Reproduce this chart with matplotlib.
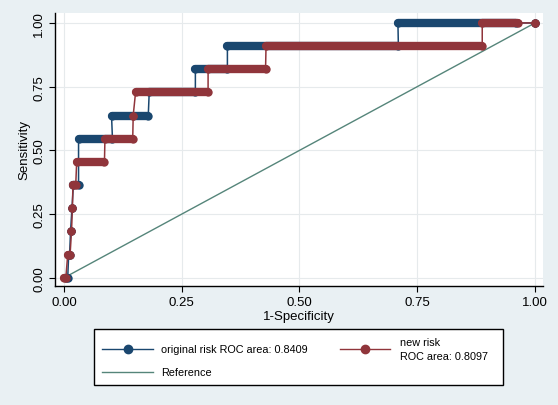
import matplotlib
matplotlib.use("Agg")
import matplotlib.pyplot as plt
from matplotlib.lines import Line2D
from matplotlib.patches import Rectangle

plt.rcParams['font.family'] = ['Liberation Sans', 'DejaVu Sans']

# ROC runs: each run is a cluster of points at one sensitivity level,
# spanning 1-specificity from lo to hi
tpr_orig = [0, 1/11, 2/11, 3/11, 4/11, 6/11, 7/11, 8/11, 9/11, 10/11, 1.0, 1.0]
lo_orig = [0.004, 0.010, 0.014, 0.017, 0.020, 0.031, 0.101, 0.181, 0.279, 0.347, 0.709, 1.0]
hi_orig = [0.008, 0.012, 0.014, 0.017, 0.031, 0.103, 0.179, 0.279, 0.347, 0.710, 0.960, 1.0]

tpr_new = [0, 1/11, 2/11, 3/11, 4/11, 5/11, 6/11, 7/11, 8/11, 9/11, 10/11, 1.0, 1.0]
lo_new = [0.0, 0.008, 0.016, 0.018, 0.019, 0.027, 0.087, 0.147, 0.152, 0.306, 0.429, 0.888, 1.0]
hi_new = [0.004, 0.013, 0.016, 0.018, 0.025, 0.086, 0.146, 0.147, 0.306, 0.428, 0.888, 0.964, 1.0]

label_orig = "original risk ROC area: 0.8409"
label_new = "new risk\nROC area: 0.8097"
label_ref = "Reference"
ticks = [0, 0.25, 0.5, 0.75, 1.0]

blue = '#1a476f'
red = '#90353b'
green = '#55857a'
bg = '#e9f0f3'

fig = plt.figure(figsize=(5.58, 4.06), dpi=100, facecolor=bg)
ax = fig.add_axes([55/558, 1 - 287/406, 488/558, 273/406])
ax.set_facecolor('white')

ax.plot([0, 1], [0, 1], color=green, lw=1.0, zorder=2)


def draw_roc(lo, hi, tpr, color, z):
    xs, ys = [], []
    for a, b, t in zip(lo, hi, tpr):
        xs += [a, b]
        ys += [t, t]
    ax.plot(xs, ys, color=color, lw=1.1, zorder=z)
    for a, b, t in zip(lo, hi, tpr):
        ax.plot([a, b], [t, t], color=color, lw=6, solid_capstyle='round',
                marker='o', markersize=6, markeredgewidth=0, zorder=z)


draw_roc(lo_orig, hi_orig, tpr_orig, blue, 3)
draw_roc(lo_new, hi_new, tpr_new, red, 4)

ax.set_xlim(-0.019, 1.017)
ax.set_ylim(-0.032, 1.039)
ax.set_xticks(ticks)
ax.set_yticks(ticks)
ax.set_xticklabels(['%.2f' % t for t in ticks], fontsize=9.5)
ax.set_yticklabels(['%.2f' % t for t in ticks], fontsize=9.5, rotation=90, va='center')
ax.tick_params(direction='out', length=4, width=0.8, colors='black', pad=3)
ax.grid(True, color='#e6eaec', lw=0.8)
ax.set_axisbelow(True)
for s in ['top', 'right']:
    ax.spines[s].set_visible(False)
for s in ['left', 'bottom']:
    ax.spines[s].set_linewidth(1.0)
ax.set_xlabel('1-Specificity', fontsize=9.5, labelpad=2)
ax.set_ylabel('Sensitivity', fontsize=9.5, labelpad=2)

# legend drawn by hand in pixel positions
W, H = 558.0, 406.0
def fx(px):
    return px / W
def fy(py):
    return 1 - py / H

fig.add_artist(Rectangle((fx(94), fy(386)), fx(503) - fx(94), fy(330) - fy(386),
                         transform=fig.transFigure, facecolor='white',
                         edgecolor='black', lw=1.0))
fig.add_artist(Line2D([fx(102), fx(153)], [fy(350), fy(350)], color=blue, lw=1.0,
                      transform=fig.transFigure))
fig.add_artist(Line2D([fx(128)], [fy(350)], color=blue, marker='o', markersize=6,
                      transform=fig.transFigure))
fig.text(fx(161), fy(350), label_orig, fontsize=7.8, va='center', ha='left')

fig.add_artist(Line2D([fx(340), fx(390)], [fy(350), fy(350)], color=red, lw=1.0,
                      transform=fig.transFigure))
fig.add_artist(Line2D([fx(365)], [fy(350)], color=red, marker='o', markersize=6,
                      transform=fig.transFigure))
fig.text(fx(400), fy(350), label_new, fontsize=7.8, va='center', ha='left', linespacing=1.4)

fig.add_artist(Line2D([fx(102), fx(153)], [fy(373), fy(373)], color=green, lw=1.0,
                      transform=fig.transFigure))
fig.text(fx(161), fy(373), label_ref, fontsize=7.8, va='center', ha='left')

fig.savefig('out.png', dpi=100, facecolor=bg)
